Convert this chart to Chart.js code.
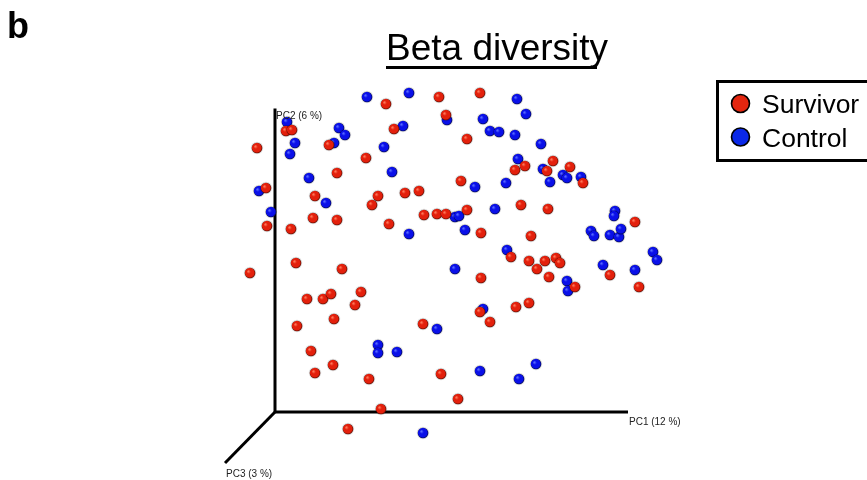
<!DOCTYPE html>
<html>
<head>
<meta charset="utf-8">
<script src="https://cdn.jsdelivr.net/npm/chart.js@4/dist/chart.umd.min.js"></script>
<style>
  html, body { margin: 0; padding: 0; background: #fff; }
  #wrap { position: relative; width: 867px; height: 480px; }
</style>
</head>
<body>
<div id="wrap"><canvas id="c" width="867" height="480"></canvas></div>
<script>
// PCoA ordination (projected view): origin of the three PC axes at (0, 0)
const seriesNames = ['Survivor', 'Control'];
const axisLabels = ['PC1 (12 %)', 'PC2 (6 %)', 'PC3 (3 %)'];
const chartTitle = 'Beta diversity';
const panelLetter = 'b';

const survivorX = [1.64,1.11,1.71,0.11,0.17,1.19,0.54,-0.18,0.91,0.62,-0.09,0.40,1.03,1.30,1.44,0.97,1.49,1.62,1.71,-0.08,0.16,0.38,0.62,1.14,
  2.05,1.92,2.40,2.50,2.78,2.72,2.95,3.08,1.86,1.92,2.46,2.73,3.60,2.06,2.56,
  0.21,-0.25,0.67,0.32,0.48,0.56,0.86,0.80,0.59,0.22,1.48,0.36,0.58,0.40,0.94,1.66,1.06,0.73,
  2.36,2.06,2.54,2.70,2.62,2.81,2.85,2.74,3.00,3.35,3.64,2.05,2.15,2.41,2.54,1.83];
const survivorY = [3.15,3.08,2.97,2.81,2.82,2.83,2.67,2.64,2.54,2.39,2.24,2.16,2.16,2.19,2.21,2.07,1.97,1.98,1.98,1.86,1.83,1.94,1.92,1.88,
  3.19,2.73,2.42,2.46,2.51,2.41,2.45,2.29,2.31,2.02,2.07,2.03,1.90,1.79,1.76,
  1.49,1.39,1.43,1.13,1.13,1.18,1.20,1.07,0.93,0.86,0.88,0.61,0.47,0.39,0.33,0.38,0.03,-0.17,
  1.55,1.34,1.51,1.51,1.43,1.54,1.49,1.35,1.25,1.37,1.25,1.00,0.90,1.05,1.09,0.13];

const controlX = [0.92,1.34,1.72,0.12,0.64,0.70,1.28,0.20,0.59,0.15,1.09,1.17,0.34,-0.16,0.51,-0.04,1.34,
  2.42,2.08,2.51,2.15,2.24,2.40,2.66,2.43,2.68,2.88,2.92,3.06,2.75,2.00,2.31,1.80,1.84,2.20,3.40,3.39,1.90,2.32,3.16,3.19,3.35,3.44,3.46,3.78,3.82,
  1.62,1.03,1.03,1.22,1.48,1.80,2.92,2.93,3.28,3.60,2.08,2.05,2.61,2.44];
const controlY = [3.15,3.19,2.92,2.90,2.84,2.77,2.86,2.69,2.69,2.58,2.65,2.40,2.34,2.21,2.09,2.00,1.78,
  3.13,2.93,2.98,2.81,2.80,2.77,2.68,2.53,2.43,2.37,2.34,2.35,2.30,2.25,2.29,1.95,1.96,2.03,2.01,1.96,1.82,1.62,1.81,1.76,1.77,1.75,1.83,1.60,1.52,
  0.83,0.67,0.59,0.60,-0.21,1.43,1.31,1.21,1.47,1.42,1.03,0.41,0.48,0.33];

// Lengths of the drawn PC axes (PC3 runs down-left in the projection)
const pc1Len = 3.53, pc2Len = 3.035;
const pc3End = { x: -0.50, y: -0.51 };

const toPoints = (xs, ys) => xs.map((x, i) => ({ x, y: ys[i] }));

// Small shaded sphere used as the point marker
function sphere(main, light, dark) {
  const s = 14, c = document.createElement('canvas');
  c.width = s; c.height = s;
  const g = c.getContext('2d');
  const r = 5.3, cx = 7, cy = 7;
  g.beginPath(); g.arc(cx, cy, r + 0.9, 0, Math.PI * 2);
  g.fillStyle = 'rgba(0,0,0,0.13)'; g.fill();
  const grad = g.createRadialGradient(cx - 1.8, cy - 1.8, 0.3, cx, cy, r);
  grad.addColorStop(0, light);
  grad.addColorStop(0.35, main);
  grad.addColorStop(0.8, main);
  grad.addColorStop(1, dark);
  g.beginPath(); g.arc(cx, cy, r, 0, Math.PI * 2);
  g.fillStyle = grad; g.fill();
  return c;
}
const redBall = sphere('#e3200c', '#ff7a5c', '#5a0a00');
const blueBall = sphere('#0a10e8', '#5a6cff', '#000650');

const decor = {
  id: 'decor',
  afterDraw(chart) {
    const ctx = chart.ctx, xs = chart.scales.x, ys = chart.scales.y;
    ctx.save();
    // panel letter
    ctx.fillStyle = '#000';
    ctx.font = 'bold 36px "Liberation Sans", Arial, sans-serif';
    ctx.textBaseline = 'alphabetic';
    ctx.textAlign = 'left';
    ctx.fillText(panelLetter, 7, 37.5);
    // title with underline
    ctx.font = '37px "Liberation Sans", Arial, sans-serif';
    ctx.fillText(chartTitle, 386, 60);
    ctx.fillRect(386, 66, 211, 3);
    // axis names
    ctx.font = '10px "Liberation Sans", Arial, sans-serif';
    ctx.fillStyle = '#222';
    ctx.fillText(axisLabels[0], xs.getPixelForValue(pc1Len) + 1, ys.getPixelForValue(0) + 13);
    ctx.fillText(axisLabels[1], xs.getPixelForValue(0) + 1, ys.getPixelForValue(pc2Len) + 10.5);
    ctx.fillText(axisLabels[2], xs.getPixelForValue(pc3End.x) + 1, ys.getPixelForValue(pc3End.y) + 13.5);
    // legend box
    ctx.strokeStyle = '#000';
    ctx.lineWidth = 3;
    ctx.strokeRect(717.5, 81.5, 170, 79);
    const cols = ['#e3260f', '#0a28e8'];
    const rowsY = [103.5, 137];
    ctx.font = '26.5px "Liberation Sans", Arial, sans-serif';
    seriesNames.forEach((n, i) => {
      ctx.beginPath();
      ctx.arc(740.5, rowsY[i], 9, 0, Math.PI * 2);
      ctx.fillStyle = cols[i]; ctx.fill();
      ctx.lineWidth = 1.6; ctx.strokeStyle = '#000'; ctx.stroke();
      ctx.fillStyle = '#000';
      ctx.fillText(n, 762, rowsY[i] + 9.5);
    });
    ctx.restore();
  }
};

const axisStyle = {
  type: 'scatter', showLine: true, borderColor: '#000', borderWidth: 3,
  pointRadius: 0, pointHoverRadius: 0, fill: false, order: 10
};

new Chart(document.getElementById('c'), {
  type: 'scatter',
  data: {
    datasets: [
      Object.assign({ label: 'axes12', data: [{ x: 0, y: pc2Len }, { x: 0, y: 0 }, { x: pc1Len, y: 0 }] }, axisStyle),
      Object.assign({ label: 'axis3', data: [{ x: 0, y: 0 }, pc3End] }, axisStyle),
      { label: seriesNames[1], data: toPoints(controlX, controlY), pointStyle: blueBall, pointRadius: 6, order: 2 },
      { label: seriesNames[0], data: toPoints(survivorX, survivorY), pointStyle: redBall, pointRadius: 6, order: 1 }
    ]
  },
  options: {
    responsive: false,
    animation: false,
    layout: { padding: 0, autoPadding: false },
    plugins: { legend: { display: false }, tooltip: { enabled: false }, title: { display: false } },
    scales: {
      x: { type: 'linear', display: false, min: -2.75, max: 5.92 },
      y: { type: 'linear', display: false, min: -0.68, max: 4.12 }
    }
  },
  plugins: [decor]
});
</script>
</body>
</html>
